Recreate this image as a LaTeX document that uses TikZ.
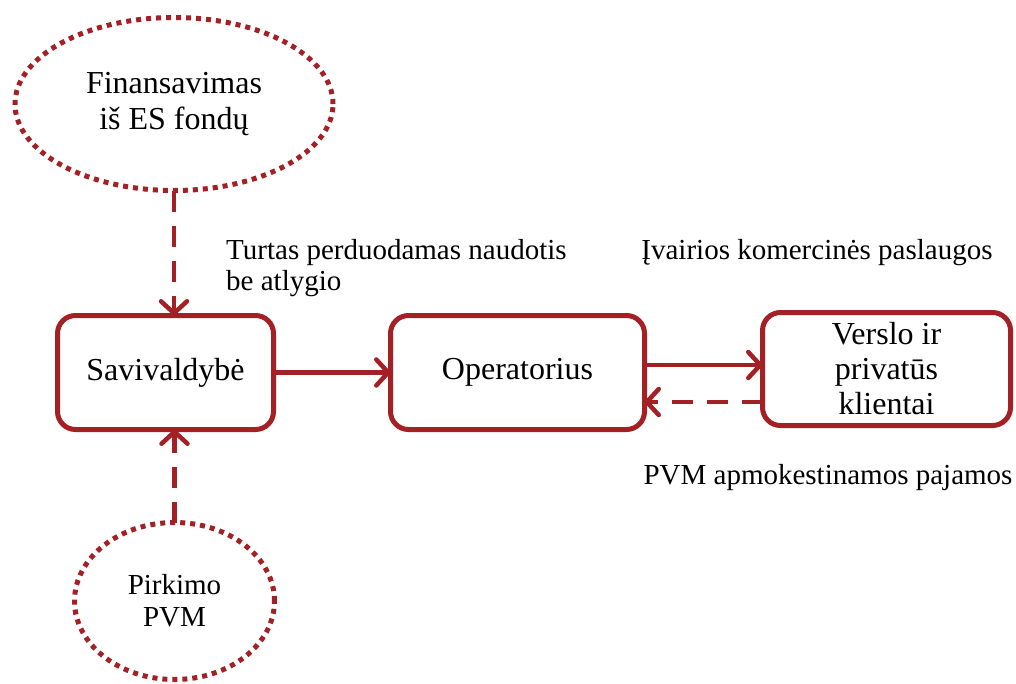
\documentclass[tikz,border=0pt]{standalone}
\usepackage{fontspec}
\setmainfont{Liberation Serif}
\usetikzlibrary{positioning,shapes.geometric,arrows.meta}
\definecolor{ruda}{RGB}{163,32,36}
\tikzset{
	blokas/.style={draw=ruda, line width=5pt, outer sep=0pt, rounded corners=18pt, minimum height=114pt, align=center, inner sep=0pt, font=\fontsize{32}{35}\selectfont},
	debesis/.style={ellipse, draw=ruda, line width=5pt, outer sep=0pt, dash pattern=on 5pt off 5pt, align=center, inner sep=0pt, font=\fontsize{32}{36}\selectfont},
	zyme/.style={inner sep=0pt, align=left, font=\fontsize{29}{31}\selectfont},
	rodykle/.style={draw=ruda, line width=4.5pt, -{Straight Barb[round, length=12pt, width=26pt]}},
	punktyrine/.style={rodykle, dash pattern=on 21pt off 14pt},
}
\begin{document}
\begin{tikzpicture}[x=1pt, y=-1pt]
	\useasboundingbox (0,0) rectangle (1016,683);
	
	\node [blokas, minimum width=216pt] (sav) at (165.5,372.5) {Savivaldybė};
	\node [blokas, minimum width=254pt, right=117pt of sav] (oper) {Operatorius};
	\node [blokas, minimum width=248pt, minimum height=113pt, right=118pt of oper, yshift=3.5pt] (klient) {Verslo ir\\privatūs\\klientai};
	\node [debesis, minimum width=318pt, minimum height=173pt] (es) at (174,104) {Finansavimas\\iš ES fondų};
	\node [debesis, minimum width=200pt, minimum height=157pt, font=\fontsize{29}{32}\selectfont] (pvm) at (174.5,601) {Pirkimo\\PVM};
	
	\node [zyme, anchor=west] (turtas) at (226,268) {Turtas perduodamas naudotis\\be atlygio};
	\node [zyme] (paslaugos) at (817,253) {Įvairios komercinės paslaugos};
	\node [zyme] (pajamos) at (828,478) {PVM apmokestinamos pajamos};
	
	\draw [punktyrine] (es.south) -- (es.south |- sav.north);
	\draw [punktyrine] (pvm.north) -- (pvm.north |- sav.south);
	\draw [rodykle] (sav.east) -- (oper.west);
	\draw [rodykle] ([yshift=7.5pt]oper.east) -- ([yshift=7.5pt]oper.east -| klient.west);
	\draw [punktyrine] ([yshift=-29.5pt]oper.east -| klient.west) -- ([yshift=-29.5pt]oper.east);
\end{tikzpicture}
\end{document}
